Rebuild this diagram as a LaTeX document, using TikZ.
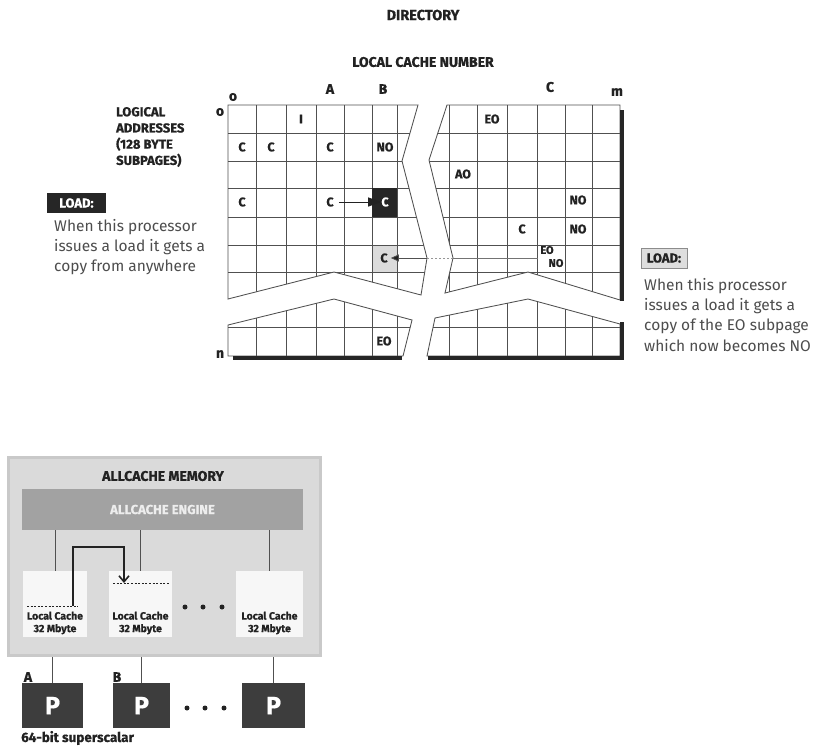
\documentclass[tikz,border=0pt]{standalone}
\usepackage{fontspec}
\setmainfont{Fira Sans}[BoldFeatures={FakeBold=0.7}]
\newfontfamily\txtfont{Fira Sans}
\usetikzlibrary{arrows.meta}
\definecolor{gridc}{HTML}{505050}
\definecolor{labc}{HTML}{222222}
\definecolor{descc}{HTML}{4D4D4D}
\definecolor{thickc}{HTML}{262626}
\definecolor{memfill}{HTML}{DADADA}
\definecolor{memdraw}{HTML}{C9C9C9}
\definecolor{engfill}{HTML}{A2A2A2}
\definecolor{cachefill}{HTML}{F7F7F7}
\definecolor{pfill}{HTML}{3D3D3D}
\begin{document}
\begin{tikzpicture}[x=1pt,y=-1pt,
  gridline/.style={draw=gridc, line width=0.85pt},
  thickline/.style={draw=thickc, line width=4pt},
  lab/.style={font=\bfseries\fontsize{14}{15}\selectfont, text=labc, inner sep=0pt},
  cell/.style={font=\bfseries\fontsize{12.5}{13}\selectfont, text=labc, inner sep=0pt},
  smallcell/.style={font=\bfseries\fontsize{11}{12}\selectfont, text=labc, inner sep=0pt},
  desc/.style={font=\txtfont\fontsize{15.5}{20.3}\selectfont, text=descc, inner sep=0pt, align=left, anchor=north west},
  loadbox/.style={font=\bfseries\fontsize{13}{14}\selectfont, inner sep=0pt, minimum height=20pt},
  cachebox/.style={fill=cachefill, draw=none, inner sep=0pt, minimum height=66pt},
  ctext/.style={font=\bfseries\fontsize{10.5}{12.5}\selectfont, text=labc, inner sep=0pt, align=center},
  pbox/.style={fill=pfill, draw=none, text=white, font=\bfseries\fontsize{25}{26}\selectfont, inner sep=0pt, minimum height=45pt},
  conn/.style={draw=gridc, line width=1pt},
  dotc/.style={fill=labc, draw=none, circle, inner sep=0pt, minimum size=5pt}
]
\useasboundingbox[fill=white] (0,0) rectangle (818,750);

% ---------- titles ----------
\node[lab, font=\bfseries\fontsize{14.5}{16}\selectfont] (dir) at (423,15) {DIRECTORY};
\node[lab] (lcn) at (423,62) {LOCAL CACHE NUMBER};

% ---------- cell fills ----------
\fill[black!14] (372,245) rectangle (397,272);

% ---------- left top piece ----------
\begin{scope}
  \clip (228,105) -- (418,105) -- (402,161) -- (427,258) -- (421,295) -- (334,272) -- (228,299) -- cycle;
  \foreach \xx in {256,286,316,344,372,397} \draw[gridline] (\xx,90) -- (\xx,380);
  \foreach \yy in {133,161,188,217,245,272} \draw[gridline] (200,\yy) -- (640,\yy);
\end{scope}
\draw[gridline] (228,105) -- (418,105) -- (402,161) -- (427,258) -- (421,295) -- (334,272) -- (228,299) -- cycle;
\fill[thickc] (372,188) rectangle (397,217);

% ---------- right top piece ----------
\begin{scope}
  \clip (447,105) -- (620,105) -- (620,300) -- (528,272) -- (445,293) -- (453,258) -- (429,160) -- cycle;
  \foreach \xx in {449,477,507,537,565,592} \draw[gridline] (\xx,90) -- (\xx,380);
  \foreach \yy in {133,161,188,217,245,272} \draw[gridline] (200,\yy) -- (640,\yy);
\end{scope}
\draw[gridline] (447,105) -- (620,105) -- (620,300) -- (528,272) -- (445,293) -- (453,258) -- (429,160) -- cycle;

% ---------- left lower piece ----------
\begin{scope}
  \clip (228,325) -- (334,299) -- (412,320) -- (403,356) -- (228,356) -- cycle;
  \foreach \xx in {256,286,316,344,372,397} \draw[gridline] (\xx,290) -- (\xx,380);
  \draw[gridline] (200,327) -- (640,327);
\end{scope}
\draw[gridline] (228,325) -- (334,299) -- (412,320) -- (403,356) -- (228,356) -- cycle;

% ---------- right lower piece ----------
\begin{scope}
  \clip (435,318) -- (528,299) -- (620,324) -- (620,356) -- (427,356) -- cycle;
  \foreach \xx in {449,477,507,537,565,592} \draw[gridline] (\xx,290) -- (\xx,380);
  \draw[gridline] (200,327) -- (640,327);
\end{scope}
\draw[gridline] (435,318) -- (528,299) -- (620,324) -- (620,356) -- (427,356) -- cycle;

% ---------- thick borders ----------
\draw[thickline] (622,110) -- (622,301);
\draw[thickline] (622,322) -- (622,358);
\draw[thickline] (428,358) -- (624,358);
\draw[thickline] (233,358) -- (402,358);

% ---------- axis labels ----------
\node[lab] (o1) at (233,97) {o};
\node[lab] (o2) at (220,112) {o};
\node[lab] (ca) at (330,89) {A};
\node[lab] (cb) at (383,89) {B};
\node[lab] (cc) at (550,87) {C};
\node[lab] (cm) at (617,92) {m};
\node[lab] (rn) at (220,354) {n};

\node[lab, align=left, anchor=west, font=\bfseries\fontsize{13}{16.2}\selectfont] (logical) at (116,137)
  {LOGICAL\\ADDRESSES\\(128 BYTE\\SUBPAGES)};

% ---------- cell labels ----------
\node[cell] (i1) at (301,119) {I};
\node[cell] (c11) at (242,147) {C};
\node[cell] (c12) at (271,147) {C};
\node[cell] (c13) at (330,147) {C};
\node[cell] (no1) at (385,147) {NO};
\node[cell] (eo1) at (492,119) {EO};
\node[cell] (ao1) at (463,174) {AO};
\node[cell] (c31) at (242,202) {C};
\node[cell] (c32) at (330,202) {C};
\node[cell, text=white] (cblk) at (385,202) {C};
\node[cell] (no3) at (578,200) {NO};
\node[cell] (c4) at (522,229) {C};
\node[cell] (no4) at (578,229) {NO};
\node[smallcell] (eo5) at (547,250) {EO};
\node[smallcell] (no5) at (556,263) {NO};
\node[cell] (cgry) at (384,258) {C};
\node[cell] (eol) at (384,341) {EO};

% ---------- arrows in grid ----------
\draw[draw=labc, line width=0.9pt, -{Triangle[length=13pt,width=9pt]}] ([xshift=5pt]c32.east) -- (cblk.west |- c32.east);
\coordinate (gapr) at (453,258);
\coordinate (gapl) at (427,258);
\coordinate (eostart) at (538,258);
\draw[draw=gridc!80, line width=0.8pt] (eostart) -- (gapr);
\draw[draw=gridc!60, line width=0.8pt, dash pattern=on 2pt off 2pt] (gapr) -- (gapl);
\draw[draw=gridc, line width=0.8pt, -{Triangle[length=8pt,width=7pt,fill=labc]}] (gapl) -- ([xshift=3pt]cgry.east);

% ---------- LOAD labels ----------
\node[loadbox, fill=thickc, text=white, minimum width=59pt] (loadl) at (76.5,203) {LOAD:};
\node[desc] (descl) at (54,219) {When this processor\\issues a load it gets a\\copy from anywhere};

\node[loadbox, fill=black!13, draw=black!45, line width=0.8pt, text=labc, minimum width=46pt] (loadr) at (664,258) {LOAD:};
\node[desc] (descr) at (644,278) {When this processor\\issues a load it gets a\\copy of the EO subpage\\which now becomes NO};

% ---------- ALLCACHE MEMORY ----------
\node[fill=memfill, draw=memdraw, line width=3pt, minimum width=312pt, minimum height=198pt, inner sep=0pt] (mem) at (164,556) {};
\node[lab] (memt) at (163,476) {ALLCACHE MEMORY};
\node[fill=engfill, draw=none, minimum width=281pt, minimum height=41pt, inner sep=0pt,
      text=white!93!black, font=\bfseries\fontsize{13}{14}\selectfont] (eng) at (162.5,509.5) {ALLCACHE ENGINE};

\node[cachebox, minimum width=64pt] (lc1) at (55,604) {};
\node[cachebox, minimum width=63pt] (lc2) at (140.5,604) {};
\node[cachebox, minimum width=67pt] (lc3) at (269.5,604) {};
\node[ctext] (lt1) at (55,623) {Local Cache\\32 Mbyte};
\node[ctext] (lt2) at (140.5,623) {Local Cache\\32 Mbyte};
\node[ctext] (lt3) at (269.5,623) {Local Cache\\32 Mbyte};

\draw[conn] (lc1.north) -- (lc1.north |- eng.south);
\draw[conn] (lc2.north) -- (lc2.north |- eng.south);
\draw[conn] (lc3.north) -- (lc3.north |- eng.south);

\coordinate (dl1) at (27,606);
\coordinate (dr1) at (78,606);
\coordinate (dl2) at (113,583);
\coordinate (dr2) at (170,583);
\draw[draw=labc, line width=0.8pt, dash pattern=on 2pt off 1.6pt] (dl1) -- (dr1);
\draw[draw=labc, line width=0.8pt, dash pattern=on 2pt off 1.6pt] (dl2) -- (dr2);
\coordinate (ar1) at (73,606);
\coordinate (ar2) at (124,583);
\draw[draw=labc, line width=1.6pt, -{Straight Barb[length=6pt,width=10pt]}] (ar1) -- (73,547) -- (124,547) -- (ar2);

\node[dotc] (d1) at (185,607) {};
\node[dotc] (d2) at (203,607) {};
\node[dotc] (d3) at (222,607) {};

% ---------- processors ----------
\node[pbox, minimum width=61pt] (p1) at (52.5,705.5) {P};
\node[pbox, minimum width=57pt] (p2) at (141.5,705.5) {P};
\node[pbox, minimum width=63pt] (p3) at (273.5,705.5) {P};
\draw[conn, line width=1.2pt] (p1.north) -- (p1.north |- mem.south);
\draw[conn, line width=1.2pt] (p2.north) -- (p2.north |- mem.south);
\draw[conn, line width=1.2pt] (p3.north) -- (p3.north |- mem.south);

\node[lab] (pa) at (28,677) {A};
\node[lab] (pb) at (117,677) {B};
\node[dotc] (e1) at (187,708) {};
\node[dotc] (e2) at (205,708) {};
\node[dotc] (e3) at (224,708) {};
\node[lab, anchor=west, font=\bfseries\fontsize{13.5}{15}\selectfont] (sup) at (21,738) {64-bit superscalar};
\end{tikzpicture}
\end{document}
